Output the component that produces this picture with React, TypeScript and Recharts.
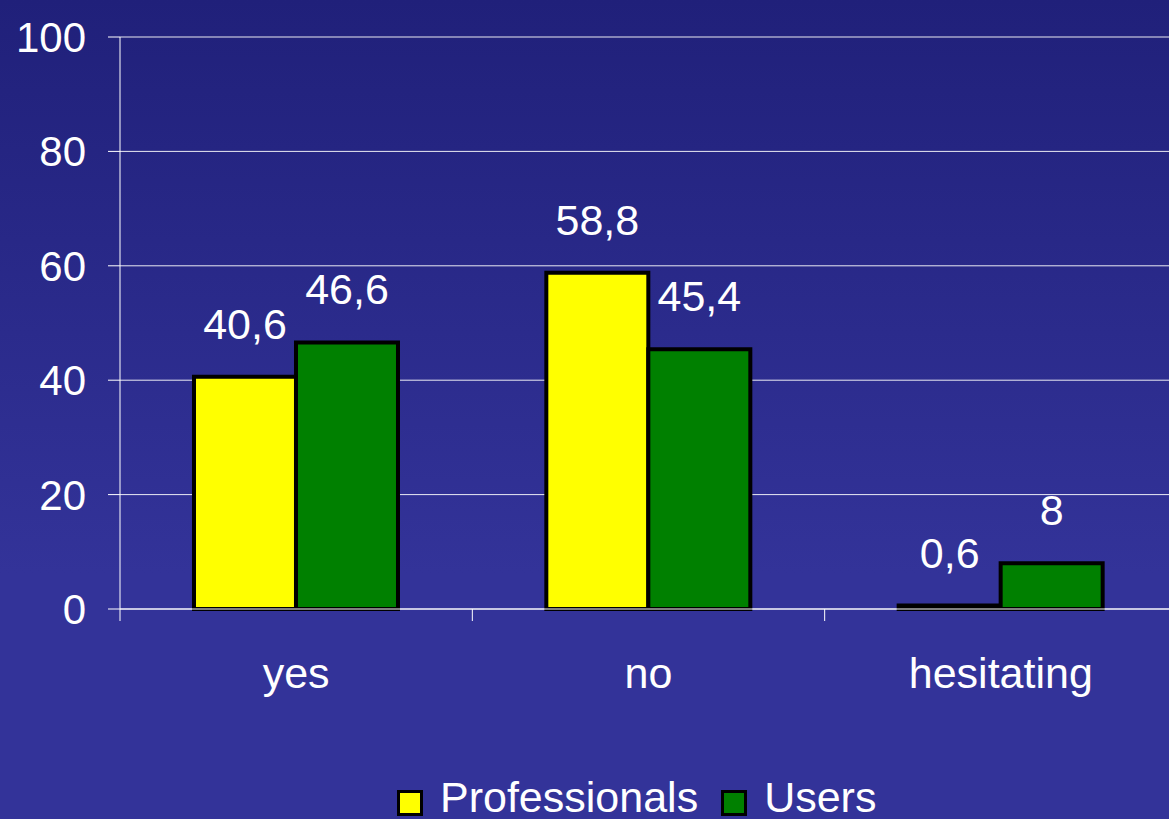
import React from "react";
import { BarChart, Bar, XAxis, YAxis, CartesianGrid, Legend, LabelList } from "recharts";

const categories = ["yes", "no", "hesitating"];
const professionals = [40.6, 58.8, 0.6];
const users = [46.6, 45.4, 8];
const yTicks = [0, 20, 40, 60, 80, 100];
const seriesNames = ["Professionals", "Users"];
const seriesColors = ["#ffff00", "#008000"];

const data = categories.map((name, i) => ({
    name,
    professionals: professionals[i],
    users: users[i],
}));

const FONT = '"Liberation Sans", Arial, sans-serif';
const TICK_SIZE = 12;
const X_TICK_MARGIN = 36;

const fmt = (v: any) => String(v).replace(".", ",");

const CategoryTick = (props: any) => {
    const { x, y, payload, index } = props;
    const axisY = y - TICK_SIZE - X_TICK_MARGIN;
    const half = payload.offset || 0;
    return (
        <g>
            <line x1={x - half} x2={x - half} y1={axisY} y2={axisY + TICK_SIZE} stroke="#fff" />
            {index === categories.length - 1 && (
                <line x1={x + half} x2={x + half} y1={axisY} y2={axisY + TICK_SIZE} stroke="#fff" />
            )}
            <text x={x} y={y} dy="0.71em" textAnchor="middle" fill="#fff" fontSize={43} fontFamily={FONT}>
                {payload.value}
            </text>
        </g>
    );
};

const LegendContent = () => (
    <div
        style={{
            display: "flex",
            alignItems: "center",
            paddingLeft: 397,
            height: 44,
            fontFamily: FONT,
            fontSize: 43,
            lineHeight: "43px",
            color: "#fff",
        }}
    >
        {seriesNames.map((n, i) => (
            <div key={n} style={{ display: "flex", alignItems: "center", marginRight: 23 }}>
                <span
                    style={{
                        display: "inline-block",
                        width: 20,
                        height: 20,
                        border: "3px solid #000",
                        background: seriesColors[i],
                        marginRight: 17,
                        marginTop: 12,
                    }}
                />
                <span>{n}</span>
            </div>
        ))}
    </div>
);

const App = () => {
    return (
        <div
            style={{
                position: "absolute",
                left: 0,
                top: 0,
                width: 1169,
                height: 819,
                overflow: "hidden",
                background: "linear-gradient(to bottom, #20207a 0%, #333399 70%, #333399 100%)",
            }}
        >
            <BarChart
                width={1177}
                height={819}
                data={data}
                margin={{ top: 37, right: 0, left: 0, bottom: 0 }}
                barCategoryGap="21%"
                barGap={0}
            >
                <CartesianGrid vertical={false} stroke="#fff" strokeOpacity={0.9} />
                <XAxis
                    dataKey="name"
                    height={166}
                    axisLine={{ stroke: "#fff" }}
                    tickLine={false}
                    tickSize={TICK_SIZE}
                    tickMargin={X_TICK_MARGIN}
                    tick={<CategoryTick />}
                    interval={0}
                />
                <YAxis
                    domain={[0, 100]}
                    ticks={yTicks}
                    width={120}
                    interval={0}
                    axisLine={{ stroke: "#fff" }}
                    tickLine={{ stroke: "#fff" }}
                    tickSize={TICK_SIZE}
                    tickMargin={22}
                    tick={{ fill: "#fff", fontSize: 42, fontFamily: FONT }}
                />
                <Legend verticalAlign="bottom" content={<LegendContent />} wrapperStyle={{ left: 0, width: 1177 }} />
                <Bar dataKey="professionals" fill={seriesColors[0]} stroke="#000" strokeWidth={4} isAnimationActive={false}>
                    <LabelList dataKey="professionals" position="top" offset={38} fill="#fff" fontSize={43} fontFamily={FONT} formatter={fmt} />
                </Bar>
                <Bar dataKey="users" fill={seriesColors[1]} stroke="#000" strokeWidth={4} isAnimationActive={false}>
                    <LabelList dataKey="users" position="top" offset={38} fill="#fff" fontSize={43} fontFamily={FONT} formatter={fmt} />
                </Bar>
            </BarChart>
        </div>
    );
};

export default App;
